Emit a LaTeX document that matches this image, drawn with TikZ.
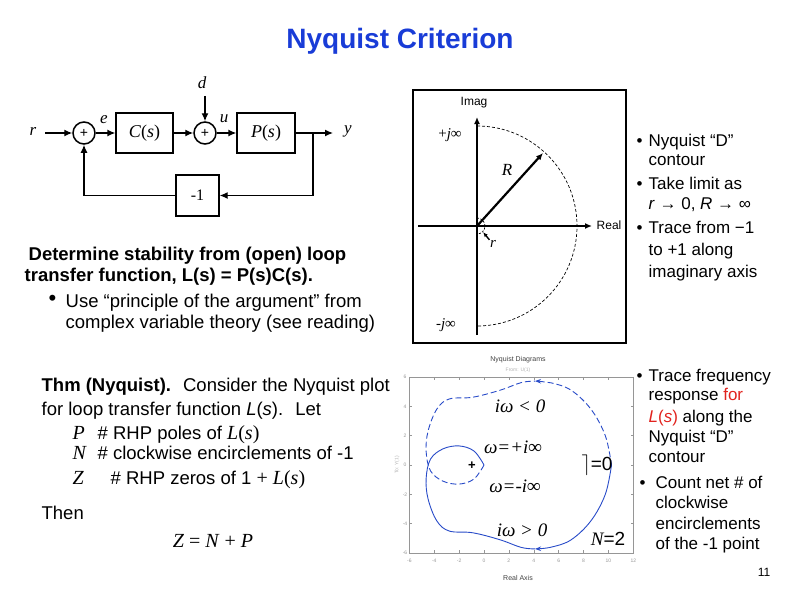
\documentclass[tikz,border=0pt]{standalone}
\usepackage{fontspec}
\setmainfont{Liberation Sans}
\newfontfamily\tms{Liberation Serif}
\usetikzlibrary{arrows.meta,positioning}
\definecolor{titleblue}{RGB}{25,60,215}
\definecolor{plotblue}{RGB}{40,75,200}
\definecolor{axisgrey}{RGB}{150,150,150}
\definecolor{slidered}{RGB}{225,35,30}
\newcommand{\fsz}[1]{\fontsize{#1}{#1}\selectfont}

\begin{document}
\begin{tikzpicture}[x=1pt,y=-1pt,line width=1.3pt,
  sumnode/.style={draw,circle,minimum size=22pt,inner sep=0pt,line width=1.5pt,font=\fsz{14}},
  blocknode/.style={draw,rectangle,minimum height=40pt,inner sep=0pt,font=\tms\fsz{18}},
  sig/.style={font=\tms\itshape\fsz{17},inner sep=0pt},
  flow/.style={-{Latex[length=8pt,width=7pt]}},
  slidetext/.style={anchor=base west,inner sep=0pt,font=\fsz{17}},
  bodytext/.style={anchor=base west,inner sep=0pt,font=\fsz{18.5}},
  ticklabel/.style={font=\fsz{5},text=axisgrey,inner sep=0pt},
  plotlabel/.style={font=\tms\itshape\fsz{19},inner sep=0pt}]
        \useasboundingbox (0,0) rectangle (799,599);
        \node[font=\bfseries\fsz{28},text=titleblue] (title) at (400,41) {Nyquist Criterion};
        % block diagram
        \node[sumnode] (S1) at (84,133) {+};%e
        \node[blocknode,minimum width=57pt] (C) at (144.5,133) {\textit{C}(\textit{s})};
        \node[sumnode] (S2) at (205,133) {+};%u
        \node[blocknode,minimum width=58pt] (P) at (266,133) {\textit{P}(\textit{s})};
        \node[blocknode,minimum width=43pt,minimum height=41pt,font=\tms\fsz{16}] (K) at (197.5,195.5) {-1};
        \coordinate (rin) at (45,133);
        \coordinate (din) at (205,96);
        \coordinate (br) at (313,133);
        \coordinate (yout) at (333,133);
        \node[sig] (r) at (33,131) {r};
        \node[sig] (e) at (104,120) {e};
        \node[sig] (d) at (202,83) {d};
        \node[sig] (u) at (224,119) {u};
        \node[sig] (y) at (348,131) {y};
        \draw[flow] (rin) -- (S1);
        \draw[flow] (S1) -- (C);
        \draw[flow] (C) -- (S2);
        \draw[flow] (din) -- (S2);
        \draw[flow] (S2) -- (P);
        \draw[flow] (P) -- (yout);
        \draw[flow] (br) |- (K);
        \draw[flow] (K) -| (S1);
        % D contour
        \draw[line width=1.3pt] (413,90) rectangle (626,343);
        \coordinate (O) at (477,226);
        \coordinate (ib) at (477,335);
        \coordinate (it) at (477,117);
        \coordinate (rl) at (418,226);
        \coordinate (rr) at (592,226);
        \coordinate (jp) at (477,126);
        \coordinate (Rt) at (543,153);
        \coordinate (rt) at (483,232);
        \draw[line width=2.2pt,-{Latex[length=7pt,width=6pt]}] (ib) -- (it);
        \draw[line width=2.2pt,-{Latex[length=7pt,width=6pt]}] (rl) -- (rr);
        \draw[line width=0.7pt,dash pattern=on 3pt off 2pt] (jp) arc[start angle=-90,end angle=90,radius=100];
        \draw[line width=0.7pt,dash pattern=on 2pt off 1.5pt] (477,218) arc[start angle=-90,end angle=90,radius=8];
        \draw[line width=2.2pt,-{Latex[length=7pt,width=6pt]}] (O) -- (Rt);
        \node[font=\fsz{12}] (imag) at (474,103) {Imag};
        \node[font=\fsz{12}] (real) at (609,225) {Real};
        \node[font=\tms\fsz{15}] (jinf) at (450,135) {+\textit{j}∞};
        \node[font=\tms\fsz{15}] (mjinf) at (446,325) {-\textit{j}∞};
        \node[sig] (R) at (507,170) {R};
        \node[sig,font=\tms\itshape\fsz{15}] (rs) at (493,244) {r};
        \draw[line width=1.4pt,-{Latex[length=5pt,width=4pt]}] (rs.north west) -- (rt);
        % right notes, top
        \node[slidetext] (b1) at (636,146) {\textbullet};
        \node[slidetext] (t1) at (648,146) {Nyquist “D”};
        \node[slidetext] (t2) at (648,165) {contour};
        \node[slidetext] (b2) at (636,189) {\textbullet};
        \node[slidetext] (t3) at (648,189) {Take limit as};
        \node[slidetext] (t4) at (648,209) {\textit{r} → 0, \textit{R} → ∞};
        \node[slidetext] (b3) at (636,233) {\textbullet};
        \node[slidetext] (t5) at (648,233) {Trace from −1};
        \node[slidetext] (t6) at (648,255) {to +1 along};
        \node[slidetext] (t7) at (648,277) {imaginary axis};
        % left text
        \node[bodytext,font=\bfseries\fsz{18.5}] (s1) at (28,260) {Determine stability from (open) loop};
        \node[bodytext,font=\bfseries\fsz{18.5}] (s2) at (24,281.5) {transfer function, L(s) = P(s)C(s).};
        \node[bodytext,font=\fsz{22}] (b4) at (48,305) {\textbullet};
        \node[bodytext] (s3) at (65,307.5) {Use “principle of the argument” from};
        \node[bodytext] (s4) at (65,328.5) {complex variable theory (see reading)};
        % theorem
        \node[bodytext] (h1) at (41,391.5) {\textbf{Thm (Nyquist).}~ Consider the Nyquist plot};
        \node[bodytext] (h2) at (41,415.5) {for loop transfer function \textit{L}(\textit{s}).~ Let};
        \node[bodytext,font=\tms\itshape\fsz{20}] (hP) at (72,439.5) {P};
        \node[bodytext] (h3) at (97,439.5) {\# RHP poles of {\tms\fsz{20}\textit{L}(\textit{s})}};
        \node[bodytext,font=\tms\itshape\fsz{20}] (hN) at (72,459.5) {N};
        \node[bodytext] (h4) at (97,459.5) {\# clockwise encirclements of -1};
        \node[bodytext,font=\tms\itshape\fsz{20}] (hZ) at (72,484.5) {Z};
        \node[bodytext] (h5) at (110,484.5) {\# RHP zeros of 1 {\tms\fsz{20}+ \textit{L}(\textit{s})}};
        \node[bodytext] (h6) at (41,519.5) {Then};
        \node[font=\tms\fsz{20},inner sep=0pt] (h7) at (213,541) {\textit{Z} = \textit{N} + \textit{P}};
        % Nyquist plot
        \begin{scope}[shift={(484,465)},x=12.44pt,y=14.67pt]
        \draw[axisgrey,line width=0.6pt] (-6,-6) rectangle (12,6);
        \foreach \t in {-6,-4,...,12} {
          \draw[axisgrey,line width=0.4pt] (\t,-6) -- ++(0,0.2);
          \draw[axisgrey,line width=0.4pt] (\t,6) -- ++(0,-0.2);
          \node[ticklabel] (xt\t) at (\t,-6.5) {\t};
        }
        \foreach \t in {-6,-4,...,6} {
          \draw[axisgrey,line width=0.4pt] (-6,\t) -- ++(0.2,0);
          \draw[axisgrey,line width=0.4pt] (12,\t) -- ++(-0.2,0);
          \node[ticklabel] (yt\t) at (-6.35,\t) {\t};
        }
        \draw[plotblue,line width=0.9pt,-{Stealth[length=6pt,width=4.5pt]}] plot[smooth,tension=0.6] coordinates {(10.25,0) (9.75,-2) (8.6,-3.8) (7,-5.1) (5.4,-5.6) (4.1,-5.72)};
        \draw[plotblue,line width=0.9pt] plot[smooth,tension=0.6] coordinates {(4.1,-5.72) (3,-5.62) (1.3,-5.1) (-0.9,-4.62) (-2.8,-4.5) (-3.8,-3.8) (-4.5,-2.3) (-4.65,-0.9) (-4.3,0.4) (-3.3,1.1) (-2,1.3) (-0.8,0.95) (0,0)};
        \draw[plotblue,line width=0.9pt,dash pattern=on 6pt off 3pt] plot[smooth,tension=0.6] coordinates {(0,0) (-0.8,-0.95) (-2,-1.3) (-3.3,-1.1) (-4.3,-0.4) (-4.65,0.9) (-4.5,2.3) (-3.8,3.8) (-2.8,4.5) (-0.9,4.62) (1.3,5.1) (3,5.62) (4.1,5.72)};
        \draw[plotblue,line width=0.9pt,dash pattern=on 6pt off 3pt,{Stealth[length=6pt,width=4.5pt]}-] plot[smooth,tension=0.6] coordinates {(4.1,5.72) (5.4,5.6) (7,5.1) (8.6,3.8) (9.75,2) (10.25,0)};
        \end{scope}
        \node[font=\fsz{7},text=black!75] (ntitle) at (518,360) {Nyquist Diagrams};
        \node[font=\fsz{5},text=black!30] (nfrom) at (518,370) {From: U(1)};
        \node[font=\fsz{7},text=black!75] (nx) at (518,578) {Real Axis};
        \node[font=\fsz{5},text=black!30,rotate=90] (ny) at (397,465) {To: Y(1)};
        \node[font=\bfseries\fsz{13}] (minus1) at (472,466) {+};
        \node[plotlabel] (wneg) at (520,406) {iω < 0};
        \node[plotlabel] (wpinf) at (513,447) {ω=+i∞};
        \node[plotlabel] (wminf) at (515,486) {ω=-i∞};
        \node[plotlabel] (wpos) at (522,530) {iω > 0};
        \node[font=\fsz{19},inner sep=0pt] (gam) at (597,465) {{\fsz{22}$\rceil$}=0};
        \node[font=\fsz{19},inner sep=0pt] (N2) at (608,539) {{\tms\itshape N}=2};
        % right notes, bottom
        \node[slidetext] (b5) at (636,381) {\textbullet};
        \node[slidetext] (u1) at (648,381) {Trace frequency};
        \node[slidetext] (u2) at (648,400) {response \textcolor{slidered}{for}};
        \node[slidetext] (u3) at (648,422) {\textcolor{slidered}{\textit{L}(\textit{s})} along the};
        \node[slidetext] (u4) at (648,442) {Nyquist “D”};
        \node[slidetext] (u5) at (648,462) {contour};
        \node[slidetext] (b6) at (639,488) {\textbullet};
        \node[slidetext] (u6) at (655,488) {Count net \# of};
        \node[slidetext] (u7) at (655,508) {clockwise};
        \node[slidetext] (u8) at (655,529) {encirclements};
        \node[slidetext] (u9) at (655,549) {of the -1 point};
        \node[font=\fsz{12}] (page) at (764,572) {11};
\end{tikzpicture}
\end{document}
